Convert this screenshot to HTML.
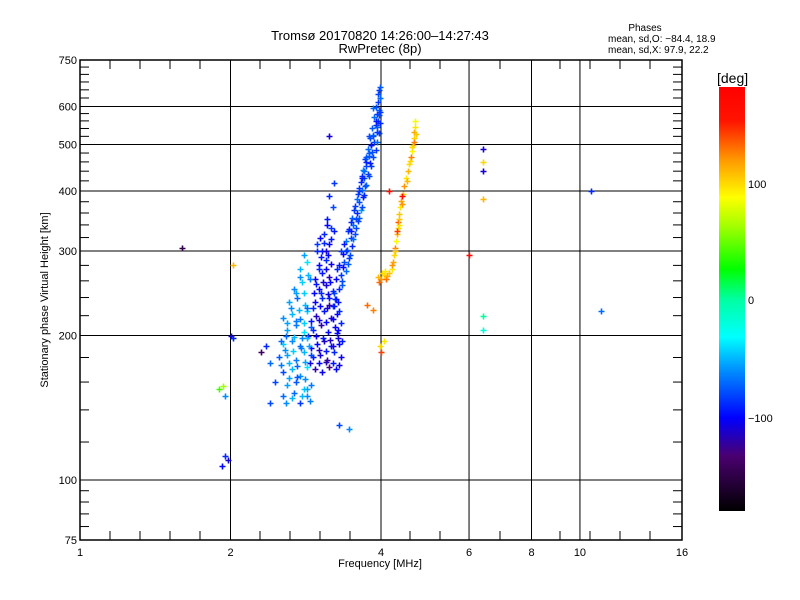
<!DOCTYPE html>
<html><head><meta charset="utf-8">
<style>
html,body{margin:0;padding:0;background:#fff;}
svg{display:block;font-family:"Liberation Sans",sans-serif;}
</style></head>
<body>
<svg id="chart" width="800" height="600" viewBox="0 0 800 600" xmlns="http://www.w3.org/2000/svg">
<defs>
<linearGradient id="cmap" x1="0" y1="1" x2="0" y2="0">
<stop offset="0" stop-color="rgb(0,0,0)"/>
<stop offset="0.13" stop-color="rgb(74,0,112)"/>
<stop offset="0.22" stop-color="rgb(0,0,255)"/>
<stop offset="0.33" stop-color="rgb(0,140,255)"/>
<stop offset="0.41" stop-color="rgb(0,255,255)"/>
<stop offset="0.50" stop-color="rgb(0,255,160)"/>
<stop offset="0.57" stop-color="rgb(0,255,0)"/>
<stop offset="0.67" stop-color="rgb(160,255,0)"/>
<stop offset="0.74" stop-color="rgb(255,255,0)"/>
<stop offset="0.83" stop-color="rgb(255,150,0)"/>
<stop offset="0.92" stop-color="rgb(255,20,0)"/>
<stop offset="1" stop-color="rgb(255,0,0)"/>
</linearGradient>
</defs>
<text x="380" y="40" text-anchor="middle" font-size="13">Tromsø 20170820 14:26:00–14:27:43</text>
<text x="380" y="53" text-anchor="middle" font-size="13">RwPretec (8p)</text>
<g font-size="10">
<text x="645" y="31" text-anchor="middle">Phases</text>
<text x="608" y="42">mean, sd,O: −84.4, 18.9</text>
<text x="608" y="53">mean, sd,X:  97.9, 22.2</text>
</g>
<g id="plot"></g>
<g>
<text x="717" y="83" font-size="14">[deg]</text>
<rect x="719" y="87" width="26" height="424" fill="url(#cmap)"/>
<text x="748" y="188" font-size="11">100</text>
<text x="748" y="304" font-size="11">0</text>
<text x="748" y="422" font-size="11">−100</text>
</g>
<text x="380" y="567" text-anchor="middle" font-size="11">Frequency [MHz]</text>
<text transform="translate(48,300) rotate(-90)" text-anchor="middle" font-size="11">Stationary phase Virtual Height [km]</text>
</svg>
<script>
const xTickVals = [1, 2, 4, 6, 8, 10, 16];
const xTickLabels = ["1", "2", "4", "6", "8", "10", "16"];
const yTickVals = [75, 100, 200, 300, 400, 500, 600, 750];
const yTickLabels = ["75", "100", "200", "300", "400", "500", "600", "750"];
const xGridVals = [2, 4, 6, 8, 10];
const yGridVals = [100, 200, 300, 400, 500, 600];
const yMinorVals = [80,85,90,95,120,140,160,180,220,240,260,280,320,340,360,380,420,440,460,480,520,540,560,580,625,650,675,700,725];

// O-mode ridge
const ridgeFreq = [3.20,3.28,3.22,3.30,3.35,3.25,3.32,3.40,3.30,3.38,3.45,3.36,3.42,3.50,3.40,3.48,3.55,3.45,3.52,3.60,3.50,3.58,3.64,3.55,3.62,3.68,3.60,3.66,3.72,3.64,3.70,3.76,3.68,3.74,3.80,3.72,3.78,3.84,3.76,3.82,3.88,3.80,3.86,3.92,3.84,3.90,3.95,3.88,3.93,3.97,3.90,3.95,3.98,3.94,3.97,3.99];
const ridgeHeight = [230,235,245,250,255,262,268,272,280,285,290,296,302,308,315,320,326,333,340,346,352,360,366,373,380,388,395,402,410,418,426,434,442,450,458,466,474,482,490,498,506,515,524,532,540,550,560,570,580,590,600,612,625,638,650,660];
const ridgePhase = [-85,-95,-80,-90,-75,-100,-85,-70,-95,-80,-85,-105,-75,-90,-65,-85,-80,-95,-70,-85,-75,-90,-55,-85,-80,-95,-85,-70,-80,-90,-75,-85,-60,-80,-95,-85,-75,-80,-70,-90,-85,-80,-65,-85,-75,-90,-80,-70,-85,-75,-80,-85,-70,-80,-85,-75];
// ridge fill-in
const ridge2Freq = [3.15,3.24,3.34,3.26,3.36,3.44,3.33,3.46,3.38,3.52,3.44,3.56,3.48,3.62,3.53,3.66,3.58,3.70,3.62,3.74,3.66,3.78,3.70,3.82,3.74,3.86,3.78,3.90,3.82,3.92,3.86,3.96,3.92,3.99,3.96,3.99,3.85,3.91,3.79,3.73,3.67,3.61,3.57,3.49,3.41];
const ridge2Height = [240,238,260,275,278,282,300,295,310,318,330,335,345,352,365,370,385,392,405,412,425,430,440,452,460,470,480,488,500,505,520,528,545,555,575,585,595,560,520,470,430,400,350,330,300];
const ridge2Phase = [-95,-85,-80,-90,-100,-75,-85,-80,-95,-70,-85,-80,-90,-75,-85,-80,-70,-90,-85,-75,-95,-80,-70,-85,-90,-80,-75,-85,-95,-70,-80,-85,-75,-90,-80,-85,-70,-95,-80,-75,-90,-85,-80,-95,-85];

// lower blue cluster
const bFreq = [2.95,3.05,3.15,3.25,2.92,3.02,3.12,3.22,3.32,2.98,3.08,3.18,3.28,2.93,3.03,3.13,3.23,3.33,2.97,3.07,3.17,3.27,2.95,3.05,3.15,3.25,3.00,3.10,3.20,2.95,3.05,3.15,3.00,3.10,3.18,3.05,3.15,3.08,3.18,3.12,3.20,3.15,3.22,3.10,3.02,2.98,3.22];
const bHeight = [170,168,172,170,180,182,178,185,180,192,195,190,198,205,210,203,208,212,220,225,218,222,235,240,232,238,250,255,248,262,270,265,280,288,282,300,310,325,335,350,370,390,415,300,320,300,330];
const bPhase = [-120,-105,-130,-100,-95,-110,-125,-90,-105,-100,-115,-95,-110,-90,-120,-100,-105,-90,-115,-95,-110,-100,-105,-90,-120,-95,-100,-110,-90,-105,-95,-115,-100,-90,-105,-95,-100,-90,-85,-95,-80,-90,-85,-110,-100,-90,-95];
const b2Freq = [2.88,3.00,3.10,3.20,3.30,2.90,3.00,3.10,3.20,3.30,2.86,2.96,3.06,3.16,3.26,2.90,3.00,3.10,3.20,2.92,3.02,3.12,3.22,2.94,3.04,3.14,2.96,3.06,3.16,3.00,3.10,3.04,3.14,3.08,3.18,3.12,2.98,3.28,3.34,3.30];
const b2Height = [175,175,176,175,174,188,187,186,190,192,200,200,198,196,202,214,215,213,216,228,230,228,230,245,245,244,256,258,258,275,275,292,295,312,318,340,310,205,195,225];
const b2Phase = [-110,-100,-120,-95,-105,-100,-115,-95,-110,-100,-90,-105,-95,-115,-100,-95,-110,-100,-105,-90,-100,-110,-95,-100,-90,-105,-95,-110,-100,-90,-105,-95,-100,-90,-95,-100,-85,-100,-95,-90];

// light-blue cluster
const aFreq = [2.55,2.65,2.75,2.85,2.60,2.70,2.80,2.90,2.55,2.65,2.75,2.85,2.50,2.60,2.70,2.80,2.90,2.55,2.65,2.75,2.85,2.60,2.70,2.80,2.90,2.55,2.65,2.75,2.85,2.62,2.72,2.82,2.68,2.78,2.88,2.75,2.85,2.80,2.45,2.40,2.35];
const aHeight = [150,148,145,150,158,160,155,158,168,170,165,172,180,182,178,185,182,192,195,190,198,205,210,203,208,218,222,216,225,235,240,232,250,258,262,275,285,295,160,175,190];
const aPhase = [-70,-50,-85,-60,-55,-75,-45,-65,-80,-50,-60,-40,-75,-55,-65,-50,-80,-45,-60,-70,-50,-55,-65,-40,-75,-60,-50,-65,-45,-55,-70,-50,-60,-45,-65,-50,-40,-55,-80,-70,-90];
const a2Freq = [2.58,2.68,2.78,2.88,2.62,2.72,2.82,2.52,2.62,2.72,2.82,2.57,2.67,2.77,2.87,2.58,2.68,2.78,2.60,2.70,2.80,2.64,2.74,2.84,2.70,2.80,2.76,2.86,2.52,2.84];
const a2Height = [145,152,150,146,163,164,162,174,175,173,176,187,186,188,190,200,199,198,212,214,212,228,226,228,245,245,265,268,195,155];
const a2Phase = [-60,-70,-50,-65,-55,-75,-60,-65,-50,-70,-55,-60,-45,-65,-55,-70,-50,-60,-55,-65,-45,-60,-50,-70,-55,-45,-60,-50,-70,-55];

// X-mode ridge
const xFreq = [3.95,4.00,4.05,4.10,4.15,4.20,4.22,4.25,4.27,4.28,4.30,4.32,4.33,4.35,4.37,4.38,4.42,4.45,4.48,4.52,4.56,4.60,4.62,4.64,4.65,4.66,4.68,4.68,4.30,4.35,4.40,4.62,4.20,3.98,4.05,4.00,3.75,3.85,4.15,4.02,4.12,4.26,4.34,4.40,4.50,4.58,4.66,4.70,3.96,4.08];
const xHeight = [265,262,268,262,270,275,285,295,305,315,325,335,345,358,370,382,395,410,425,440,455,470,485,500,515,530,545,560,330,350,390,495,280,190,195,185,232,226,400,270,266,300,340,375,420,462,505,525,258,272];
const xPhase = [110,120,100,130,105,95,115,100,125,90,110,100,135,105,95,115,100,120,95,110,100,125,90,105,100,115,95,85,140,105,160,100,120,100,95,140,130,125,160,100,115,105,95,120,110,100,125,105,130,95];

// isolated echoes
const sFreq = [1.90,1.95,1.92,1.98,1.95,2.00,2.02,1.60,2.02,3.15,3.30,3.45,6.00,6.40,6.40,6.40,6.40,6.40,6.40,10.5,11.0,2.30,2.40,1.93];
const sHeight = [155,150,107,110,112,200,198,305,280,520,130,128,295,490,460,440,385,220,205,400,225,185,145,157];
const sPhase = [40,-60,-100,-110,-90,-110,-90,-150,110,-110,-80,-60,170,-110,100,-110,110,0,-20,-90,-70,-140,-80,60];

const freqs = [].concat(ridgeFreq, ridge2Freq, bFreq, b2Freq, aFreq, a2Freq, xFreq, sFreq);
const heights = [].concat(ridgeHeight, ridge2Height, bHeight, b2Height, aHeight, a2Height, xHeight, sHeight);
const phases = [].concat(ridgePhase, ridge2Phase, bPhase, b2Phase, aPhase, a2Phase, xPhase, sPhase);

const X0 = 80, X1 = 682, Y0 = 540, Y1 = 60;
function xScale(f){ return X0 + (X1 - X0) * Math.log2(f) / 4; }
function yScale(h){ return Y0 - (Y0 - Y1) * Math.log10(h / 75); }
function colorFor(p){
  const stops = [[-180,[0,0,0]],[-133,[74,0,112]],[-101,[0,0,255]],[-60,[0,140,255]],[-34,[0,255,255]],[0,[0,255,160]],[26,[0,255,0]],[60,[160,255,0]],[88,[255,255,0]],[120,[255,150,0]],[150,[255,20,0]],[180,[255,0,0]]];
  if (p <= stops[0][0]) return 'rgb(0,0,0)';
  for (let i = 1; i < stops.length; i++){
    if (p <= stops[i][0]){
      const t = (p - stops[i-1][0]) / (stops[i][0] - stops[i-1][0]);
      const a = stops[i-1][1], b = stops[i][1];
      return 'rgb(' + a.map((v,k)=>Math.round(v + (b[k]-v)*t)).join(',') + ')';
    }
  }
  return 'rgb(255,0,0)';
}
const NS = 'http://www.w3.org/2000/svg';
const plot = document.getElementById('plot');
function mk(tag, attrs){ const e = document.createElementNS(NS, tag); for (const k in attrs) e.setAttribute(k, attrs[k]); return e; }

xGridVals.forEach(v => {
  const l = mk('line', {x1: xScale(v), x2: xScale(v), y1: Y1, y2: Y0, stroke: '#000', 'stroke-width': 1});
  
  
  plot.appendChild(l);
});
yGridVals.forEach(v => {
  const l = mk('line', {x1: X0, x2: X1, y1: yScale(v), y2: yScale(v), stroke: '#000', 'stroke-width': 1});
  
  
  plot.appendChild(l);
});
for (let x = X0 + 30; x < X1 - 5; x += 30){
  const near = xGridVals.some(v => Math.abs(xScale(v) - x) < 6);
  if (near) continue;
  const t1 = mk('line', {x1: x, x2: x, y1: Y0, y2: Y0 - 9, stroke: '#000', 'stroke-width': 1});
  
  
  plot.appendChild(t1);
  const t2 = mk('line', {x1: x, x2: x, y1: Y1, y2: Y1 + 9, stroke: '#000', 'stroke-width': 1});
  
  
  plot.appendChild(t2);
}
yMinorVals.forEach(v => {
  const y = yScale(v);
  const t1 = mk('line', {x1: X0, x2: X0 + 9, y1: y, y2: y, stroke: '#000', 'stroke-width': 1});
  
  
  plot.appendChild(t1);
  const t2 = mk('line', {x1: X1, x2: X1 - 9, y1: y, y2: y, stroke: '#000', 'stroke-width': 1});
  
  
  plot.appendChild(t2);
});
for (let i = 0; i < freqs.length; i++){
  const x = Math.round(xScale(freqs[i])), y = Math.round(yScale(heights[i]));
  const c = colorFor(phases[i]);
  const g = mk('path', {d: 'M' + (x-2.5) + ' ' + (y+0.5) + 'h6M' + (x+0.5) + ' ' + (y-2.5) + 'v6', stroke: c, 'stroke-width': 1.6, fill: 'none'});
  
  
  plot.appendChild(g);
}
const frame = mk('rect', {x: X0, y: Y1, width: X1 - X0, height: Y0 - Y1, fill: 'none', stroke: '#000', 'stroke-width': 1.5});


plot.appendChild(frame);
xTickVals.forEach((v, i) => {
  const t = mk('text', {x: xScale(v), y: 556, 'text-anchor': 'middle', 'font-size': 11});
  t.textContent = xTickLabels[i];
  
  
  plot.appendChild(t);
});
yTickVals.forEach((v, i) => {
  const t = mk('text', {x: X0 - 3, y: yScale(v) + 4, 'text-anchor': 'end', 'font-size': 11});
  t.textContent = yTickLabels[i];
  
  
  plot.appendChild(t);
});
</script>
</body></html>
